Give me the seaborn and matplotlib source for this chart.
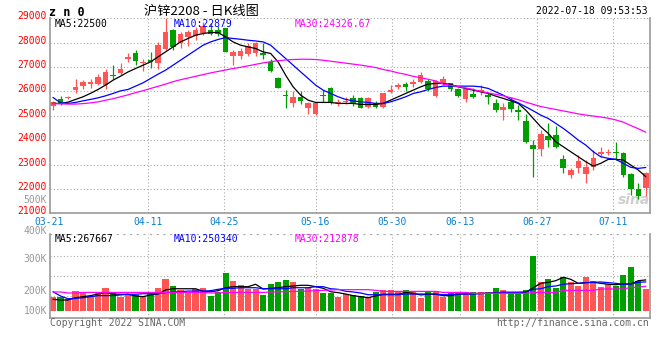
import numpy as np
import matplotlib
matplotlib.use("Agg")
import matplotlib.pyplot as plt
import seaborn as sns

sns.set_style("white")
plt.rcParams['font.family'] = ['DejaVu Sans Mono', 'Noto Sans CJK SC']

# ---------------- data ----------------
date_labels = ["03-21", "04-11", "04-25", "05-16", "05-30", "06-13", "06-27", "07-11"]
price_ticks = [21000, 22000, 23000, 24000, 25000, 26000, 27000, 28000, 29000]
vol_tick_labels = ['500K', '400K', '300K', '200K', '100K']

opens = [25400,25672,25713,26053,26229,26300,26300,26260,26670,26740,
         27323,27557,27147,27282,27147,27720,28512,28007,28237,28266,
         28380,28540,28540,28590,27459,27459,27528,27581,27581,27213,
         26532,25860,25530,25780,25303,25070,25860,26141,25510,25550,
         25750,25713,25370,25510,25368,25959,26163,26290,26300,26393,
         26434,25807,26300,26327,26080,25672,25877,25960,25850,25532,
         25233,25573,25233,24782,23800,23635,24170,24210,23213,22570,
         22844,22610,22910,23430,23460,23525,23480,22610,22000,22030]

highs = [25590,25807,25820,26500,26480,26520,26700,26940,27080,27180,
         27560,27690,27350,27630,28040,29000,28550,28440,28500,28650,
         28850,28800,28680,28620,27700,27800,27990,28040,27967,27330,
         26600,26050,26000,26000,25570,25570,26070,26200,25680,25780,
         25850,25760,25760,25600,25950,26260,26340,26380,26520,26800,
         26520,26470,26620,26350,26120,26120,26120,26270,25920,25670,
         25508,25780,25440,25055,24000,24400,24700,24600,23390,22850,
         23390,23180,23600,23710,23620,23935,23525,22670,22230,22700]

lows = [25230,25460,25670,25920,26110,26160,26250,26080,26490,26680,
        27200,27100,26850,26980,26900,27680,27700,27800,27870,28100,
        28300,28300,28280,27600,27080,27340,27460,27460,27310,26800,
        26120,25300,25380,25500,25060,25050,25560,25470,25400,25500,
        25420,25300,25340,25340,25330,25920,26080,26000,26200,26350,
        26030,25780,26250,26030,25760,25560,25720,25850,25490,25150,
        24840,25150,24840,23880,22500,23340,23700,23660,22660,22450,
        22640,22230,22790,23330,23380,23185,22480,21750,21600,21700]

closes = [25575,25480,25780,26163,26393,26368,26600,26800,26640,26913,
          27418,27254,27213,27188,27925,28442,27827,28376,28442,28512,
          28690,28348,28360,27622,27623,27664,27856,28007,27487,26832,
          26147,25810,25775,25590,25508,25532,25810,25512,25550,25620,
          25480,25340,25713,25370,25917,26053,26245,26163,26393,26667,
          26080,26434,26490,26080,25807,26080,25780,26053,25780,25233,
          25370,25274,25140,23934,23635,24250,24010,23705,22869,22775,
          23155,22885,23254,23525,23525,23460,22570,22000,21700,22640]

ma5 = [25508,25508,25560,25670,25780,25920,26080,26260,26460,26625,
       26800,26940,27077,27212,27417,27622,27827,28032,28171,28307,
       28376,28417,28417,28237,28032,27897,27827,27762,27622,27557,
       27212,26667,26188,25848,25642,25549,25549,25549,25508,25508,
       25508,25467,25467,25467,25508,25645,25780,25917,26053,26188,
       26300,26327,26327,26286,26188,26122,26053,25983,25917,25807,
       25713,25614,25508,25233,24890,24550,24278,23934,23730,23525,
       23320,23115,22938,23050,23213,23213,23184,22979,22774,22500]

ma10 = [25753,25532,25508,25549,25614,25672,25737,25819,25917,26024,
        26080,26217,26352,26532,26708,26873,27077,27282,27487,27692,
        27897,28032,28130,28212,28171,28140,28100,28070,28032,27897,
        27622,27352,27077,26803,26532,26258,26053,25917,25780,25672,
        25614,25573,25549,25508,25508,25573,25672,25780,25917,25983,
        26080,26163,26217,26217,26217,26217,26217,26188,26122,25983,
        25848,25672,25532,25368,25204,25028,24890,24688,24483,24250,
        24004,23799,23525,23320,23254,23213,23049,22885,22844,22879]

ma30 = [25500,25490,25480,25480,25500,25530,25570,25640,25700,25780,
        25860,25950,26030,26120,26210,26300,26400,26480,26550,26620,
        26690,26760,26820,26880,26940,26990,27050,27110,27170,27220,
        27260,27290,27310,27320,27320,27310,27280,27240,27200,27160,
        27120,27080,27030,26980,26900,26840,26760,26700,26620,26560,
        26500,26430,26300,26250,26200,26140,26080,26000,25940,25880,
        25820,25740,25660,25560,25470,25380,25320,25260,25200,25140,
        25080,25030,24990,24950,24900,24830,24740,24600,24470,24327]

volume = [122000,122000,104000,171000,151000,130000,151000,197000,151000,119000,
          139000,139000,130000,151000,197000,276000,215000,180000,163000,191000,
          197000,130000,165000,331000,261000,226000,189000,189000,137000,235000,
          252000,270000,252000,189000,200000,189000,157000,157000,122000,145000,
          139000,128000,116000,165000,180000,180000,165000,183000,159000,113000,
          168000,171000,122000,159000,151000,163000,159000,163000,163000,200000,
          183000,159000,159000,183000,479000,252000,278000,200000,296000,246000,
          218000,296000,255000,209000,229000,218000,313000,383000,255000,191000]

vol_ma5 = [99000,93000,93000,113000,122000,131000,145000,157000,145000,143000,
           143000,128000,122000,137000,145000,180000,191000,191000,191000,191000,
           169000,165000,174000,200000,209000,209000,209000,230000,189000,195000,
           200000,209000,215000,221000,221000,209000,195000,165000,157000,145000,
           131000,122000,113000,128000,143000,143000,143000,160000,151000,137000,
           143000,143000,131000,131000,143000,148000,148000,151000,151000,157000,
           160000,160000,160000,160000,200000,238000,247000,261000,291000,273000,
           238000,244000,247000,238000,230000,226000,232000,232000,261000,267667]

vol_ma10 = [165000,128000,104000,107000,113000,122000,131000,131000,131000,137000,
            143000,143000,148000,148000,148000,157000,163000,165000,171000,171000,
            171000,174000,186000,195000,195000,200000,200000,200000,191000,191000,
            191000,191000,200000,200000,200000,209000,209000,191000,186000,169000,
            163000,154000,139000,139000,139000,139000,139000,145000,145000,145000,
            145000,145000,139000,139000,145000,145000,145000,148000,151000,154000,
            159000,159000,159000,163000,186000,191000,209000,215000,230000,235000,
            238000,244000,247000,250000,244000,238000,230000,232000,247000,250340]

vol_ma30 = [163000,163000,154000,154000,159000,159000,159000,159000,159000,159000,
            159000,159000,159000,159000,159000,159000,159000,159000,159000,159000,
            159000,154000,154000,159000,159000,159000,159000,159000,159000,163000,
            163000,165000,168000,168000,171000,174000,177000,180000,183000,183000,
            183000,183000,183000,177000,168000,168000,168000,168000,168000,168000,
            168000,168000,159000,159000,159000,159000,151000,151000,151000,151000,
            151000,151000,151000,151000,159000,159000,159000,159000,177000,177000,
            177000,177000,177000,189000,189000,189000,189000,203000,203000,212878]

# ---------------- layout ----------------
W, H = 660, 360
RED = '#FF5555'
GREEN = '#009F00'
GRID = '#AAAAAA'
SPINE = '#999999'
XBLUE = '#0A80D0'

fig = plt.figure(figsize=(W / 100, H / 100), dpi=100)
fig.patch.set_facecolor('white')


def px_axes(l, t, r, b):
    return fig.add_axes([l / W, 1 - b / H, (r - l) / W, (b - t) / H])


def ftext(x, y, s, **kw):
    kw.setdefault('va', 'center')
    return fig.text(x / W, 1 - y / H, s, **kw)


MAIN_TOP, MAIN_BOT = 18.3, 213.3
ax = px_axes(50, MAIN_TOP, 649.5, MAIN_BOT)
axv = px_axes(50, 234.3, 649.5, 318.3)

step = 7.504
x0px = 53.0
def to_x(px):
    return (px - x0px) / step

days = np.arange(len(closes))
xl = (to_x(50), to_x(649.5))

grid_px = [148.3, 224.0, 315.5, 391.7, 460.0, 536.7, 612.7]
label_px = [49.0] + grid_px

# ---- main panel ----
ymin, ymax = 21000, 29000
ax.set_xlim(*xl)
ax.set_ylim(ymin, ymax)
for yv in price_ticks[1:]:
    ax.axhline(yv, color=GRID, lw=0.8, ls=(0, (1, 2)), zorder=0)
for gp in grid_px:
    ax.axvline(to_x(gp), color=GRID, lw=0.8, ls=(0, (1, 2)), zorder=0)

o = np.array(opens); c = np.array(closes)
h = np.array(highs); l = np.array(lows)
up = c >= o
cols = np.where(up, RED, GREEN)
ax.vlines(days, l, h, colors=cols, lw=0.9, zorder=2)
body_bottom = np.minimum(o, c)
body_h = np.maximum(np.abs(c - o), 45)
ax.bar(days, body_h, bottom=body_bottom, width=0.74, color=cols, linewidth=0, zorder=2)

sns.lineplot(x=days, y=ma5, ax=ax, color='black', lw=0.9, legend=False, zorder=3)
sns.lineplot(x=days, y=ma10, ax=ax, color='#0000FF', lw=0.9, legend=False, zorder=3)
sns.lineplot(x=days, y=ma30, ax=ax, color='#FF00FF', lw=0.9, legend=False, zorder=3)

ax.set_xticks([]); ax.set_yticks([])
ax.set_xlabel(''); ax.set_ylabel('')
for s in ['left', 'bottom', 'right']:
    ax.spines[s].set_color(SPINE)
    ax.spines[s].set_linewidth(1.2)
ax.spines['top'].set_visible(False)

# y labels slightly above their gridlines, as in the original
ppu = (MAIN_BOT - MAIN_TOP) / (ymax - ymin)
for v in price_ticks:
    ypx = MAIN_BOT - (v - ymin) * ppu - 2.0
    if v == ymin:
        ypx = MAIN_BOT - 1.8
    ftext(47, ypx, str(v), fontsize=7, ha='right', color='#FF0000')

# watermark
ax.text(to_x(634), ymin + (MAIN_BOT - 200) / ppu, 'sina', color='#CFCFCF', fontsize=10,
        fontweight='bold', style='italic', ha='center', va='center', zorder=1,
        family='DejaVu Sans')

# ---- volume panel ----
axv.set_xlim(*xl)
vpx = 8700.0
axv.set_ylim((310.7 - 318.3) * vpx, (310.7 - 234.3) * vpx)
for gy in [255.7, 275.7, 295.7]:
    axv.axhline((310.7 - gy) * vpx, color=GRID, lw=0.8, ls=(0, (1, 2)), zorder=0)
axv.axhline((310.7 - 234.3) * vpx, color=GRID, lw=1.6, ls=(0, (1, 2)), zorder=0)
for gp in grid_px:
    axv.axvline(to_x(gp), color=GRID, lw=0.8, ls=(0, (1, 2)), zorder=0)
axv.bar(days, volume, width=0.82, color=cols, linewidth=0, zorder=2)
sns.lineplot(x=days, y=vol_ma5, ax=axv, color='black', lw=0.9, legend=False, zorder=3)
sns.lineplot(x=days, y=vol_ma10, ax=axv, color='#0000FF', lw=0.9, legend=False, zorder=3)
sns.lineplot(x=days, y=vol_ma30, ax=axv, color='#FF00FF', lw=0.9, legend=False, zorder=3)
axv.set_xticks([]); axv.set_yticks([])
axv.set_xlabel(''); axv.set_ylabel('')
for s in ['left', 'bottom', 'right']:
    axv.spines[s].set_color(SPINE)
    axv.spines[s].set_linewidth(1.2)
axv.spines['top'].set_visible(False)

# ---- texts ----
ftext(49, 12, 'z n 0', fontsize=8.5, fontweight='bold', ha='left', color='black')
ftext(201, 11.5, '沪锌2208 - 日K线图', fontsize=9.5, ha='center', color='black',
      family=['Noto Sans CJK SC', 'DejaVu Sans'])
ftext(648, 11.5, '2022-07-18 09:53:53', fontsize=7, ha='right', color='black')

ftext(55, 24, 'MA5:22500', fontsize=7, ha='left', color='black')
ftext(174, 24, 'MA10:22879', fontsize=7, ha='left', color='#0000FF')
ftext(295, 24, 'MA30:24326.67', fontsize=7, ha='left', color='#FF00FF')

ftext(55, 238.7, 'MA5:267667', fontsize=7, ha='left', color='black')
ftext(174, 238.7, 'MA10:250340', fontsize=7, ha='left', color='#0000FF')
ftext(295, 238.7, 'MA30:212878', fontsize=7, ha='left', color='#FF00FF')

for lbl, lp in zip(date_labels, label_px):
    ftext(lp, 222.3, lbl, fontsize=7, ha='center', color=XBLUE)

for txt, yy in zip(vol_tick_labels, [200.0, 230.7, 259.3, 290.7, 310.7]):
    ftext(47, yy, txt, fontsize=7, ha='right', color='#999999')

ftext(50, 323.5, 'Copyright 2022 SINA.COM', fontsize=7, ha='left', color='#666666')
ftext(649, 323.5, 'http://finance.sina.com.cn', fontsize=7, ha='right', color='#666666')

fig.savefig('out.png', dpi=100, facecolor='white')
